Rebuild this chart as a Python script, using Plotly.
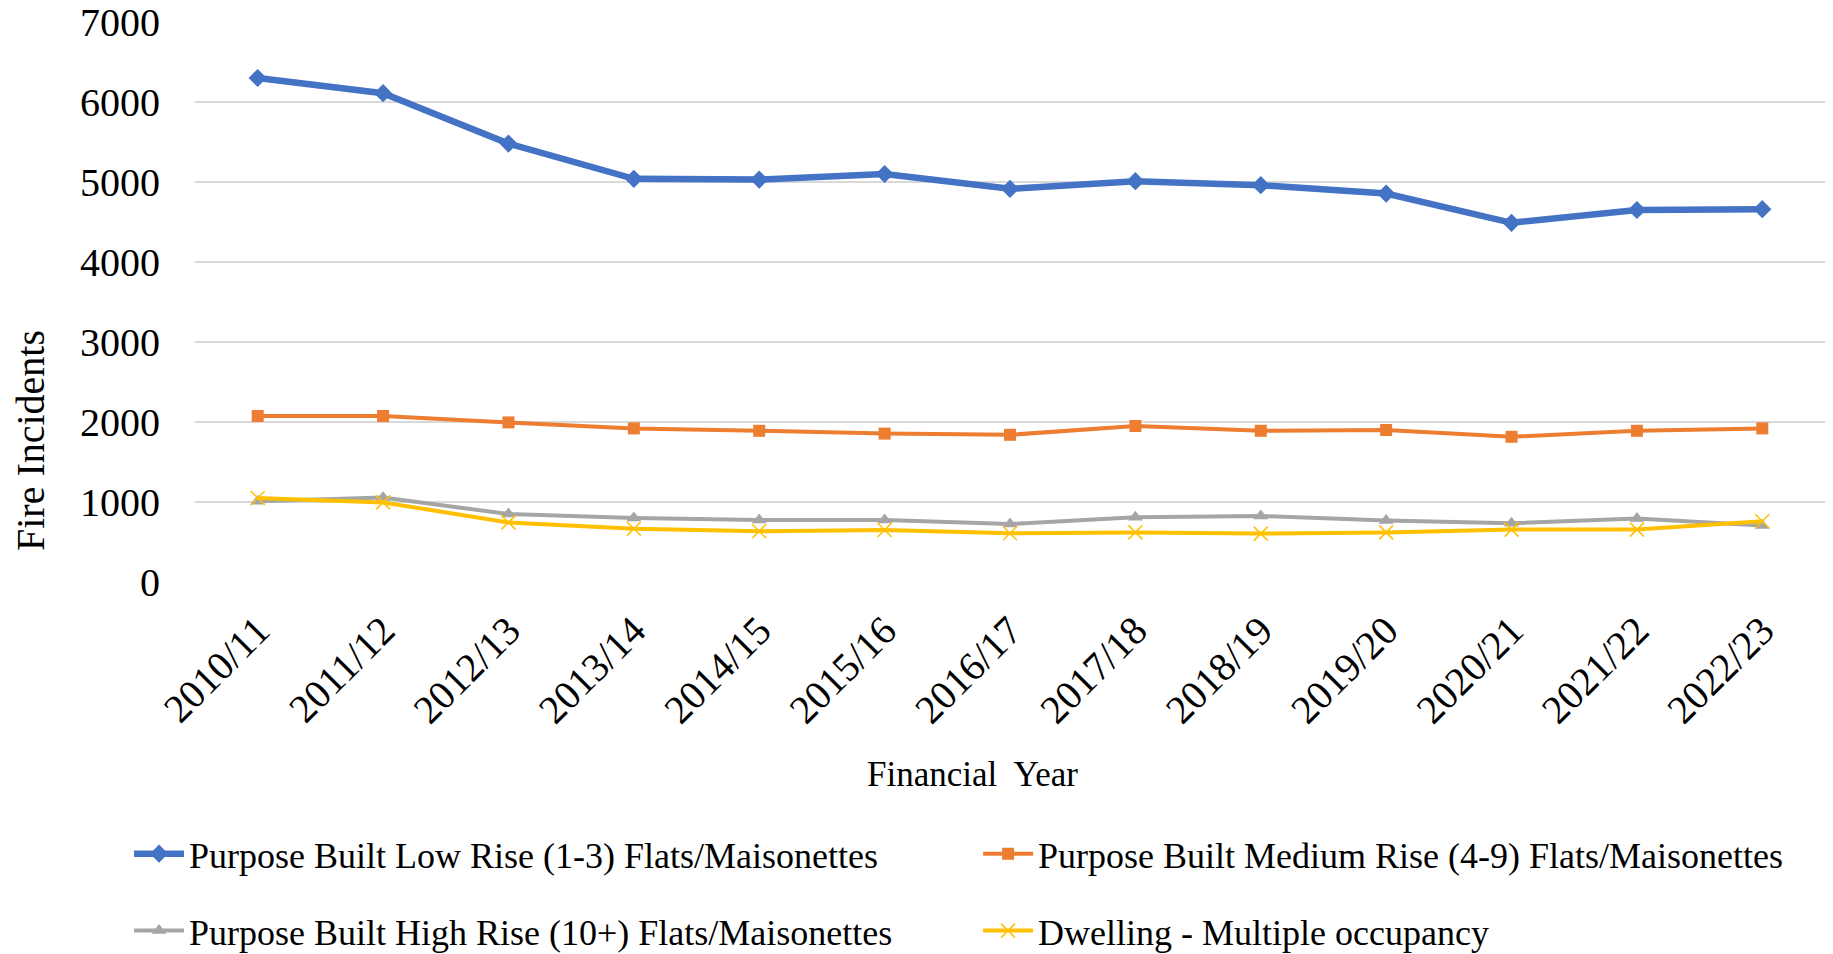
import plotly.graph_objects as go

# Financial years on the category axis
years = ["2010/11", "2011/12", "2012/13", "2013/14", "2014/15", "2015/16", "2016/17",
         "2017/18", "2018/19", "2019/20", "2020/21", "2021/22", "2022/23"]

# Fire incidents per dwelling type
low_rise = [6300, 6110, 5480, 5040, 5030, 5100, 4915, 5010, 4960, 4855, 4490, 4650, 4660]
medium_rise = [2075, 2075, 1995, 1920, 1890, 1855, 1840, 1950, 1890, 1900, 1815, 1890, 1920]
high_rise = [1010, 1055, 850, 800, 775, 775, 725, 810, 825, 770, 735, 795, 705]
multiple_occupancy = [1050, 995, 745, 665, 635, 650, 610, 620, 605, 620, 655, 655, 760]

series_names = [
    "Purpose Built Low Rise (1-3) Flats/Maisonettes",
    "Purpose Built Medium Rise (4-9) Flats/Maisonettes",
    "Purpose Built High Rise (10+) Flats/Maisonettes",
    "Dwelling - Multiple occupancy",
]

FONT = "Liberation Serif, Times New Roman, serif"

fig = go.Figure()

fig.add_trace(go.Scatter(
    x=years, y=low_rise, name=series_names[0], mode="lines+markers",
    line=dict(color="#4472C4", width=6.5),
    marker=dict(symbol="diamond", size=14, color="#4472C4"),
    legend="legend",
))
fig.add_trace(go.Scatter(
    x=years, y=medium_rise, name=series_names[1], mode="lines+markers",
    line=dict(color="#ED7D31", width=4),
    marker=dict(symbol="square", size=12, color="#ED7D31"),
    legend="legend2",
))
fig.add_trace(go.Scatter(
    x=years, y=high_rise, name=series_names[2], mode="lines+markers",
    line=dict(color="#A5A5A5", width=4),
    marker=dict(symbol="triangle-up", size=13, color="#A5A5A5"),
    legend="legend3",
))
fig.add_trace(go.Scatter(
    x=years, y=multiple_occupancy, name=series_names[3], mode="lines+markers",
    line=dict(color="#FFC000", width=4),
    marker=dict(symbol="x-thin", size=14, color="#FFC000",
                line=dict(color="#FFC000", width=1.5)),
    legend="legend4",
))

# One legend box per entry, laid out as a 2x2 grid below the axis title
legend_common = dict(
    orientation="h",
    font=dict(family=FONT, size=36, color="#000000"),
    bgcolor="rgba(0,0,0,0)",
    itemwidth=50,
    xref="container",
    yref="container",
    xanchor="left",
    yanchor="middle",
)
col_x = [0.0704, 0.5336]
row_y = [0.1051, 0.0244]

fig.update_layout(
    width=1833,
    height=954,
    margin=dict(l=195, r=8, t=22, b=372),
    paper_bgcolor="white",
    plot_bgcolor="white",
    font=dict(family=FONT, size=40, color="#000000"),
    showlegend=True,
    legend=dict(**legend_common, x=col_x[0], y=row_y[0]),
    legend2=dict(**legend_common, x=col_x[1], y=row_y[0]),
    legend3=dict(**legend_common, x=col_x[0], y=row_y[1]),
    legend4=dict(**legend_common, x=col_x[1], y=row_y[1]),
    xaxis=dict(
        type="category",
        range=[-0.5, len(years) - 0.5],
        showgrid=False,
        showline=False,
        zeroline=False,
        ticks="",
        tickangle=-45,
        automargin=False,
        ticklabelstandoff=16,
        tickfont=dict(family=FONT, size=40, color="#000000"),
    ),
    yaxis=dict(
        range=[0, 7000],
        dtick=1000,
        showgrid=True,
        gridcolor="#D9D9D9",
        gridwidth=2,
        showline=False,
        zeroline=False,
        ticks="",
        automargin=False,
        ticklabelstandoff=34,
        tickfont=dict(family=FONT, size=40, color="#000000"),
    ),
    annotations=[
        dict(text="Fire Incidents", textangle=-90, xref="paper", yref="paper",
             x=-0.1006, y=0.2518, xanchor="center", yanchor="middle",
             showarrow=False, font=dict(family=FONT, size=40, color="#000000")),
        dict(text="Financial\u00a0 Year", xref="paper", yref="paper",
             x=0.4773, y=-0.3446, xanchor="center", yanchor="middle",
             showarrow=False, font=dict(family=FONT, size=35, color="#000000")),
    ],
)

fig.write_html("out.html")
